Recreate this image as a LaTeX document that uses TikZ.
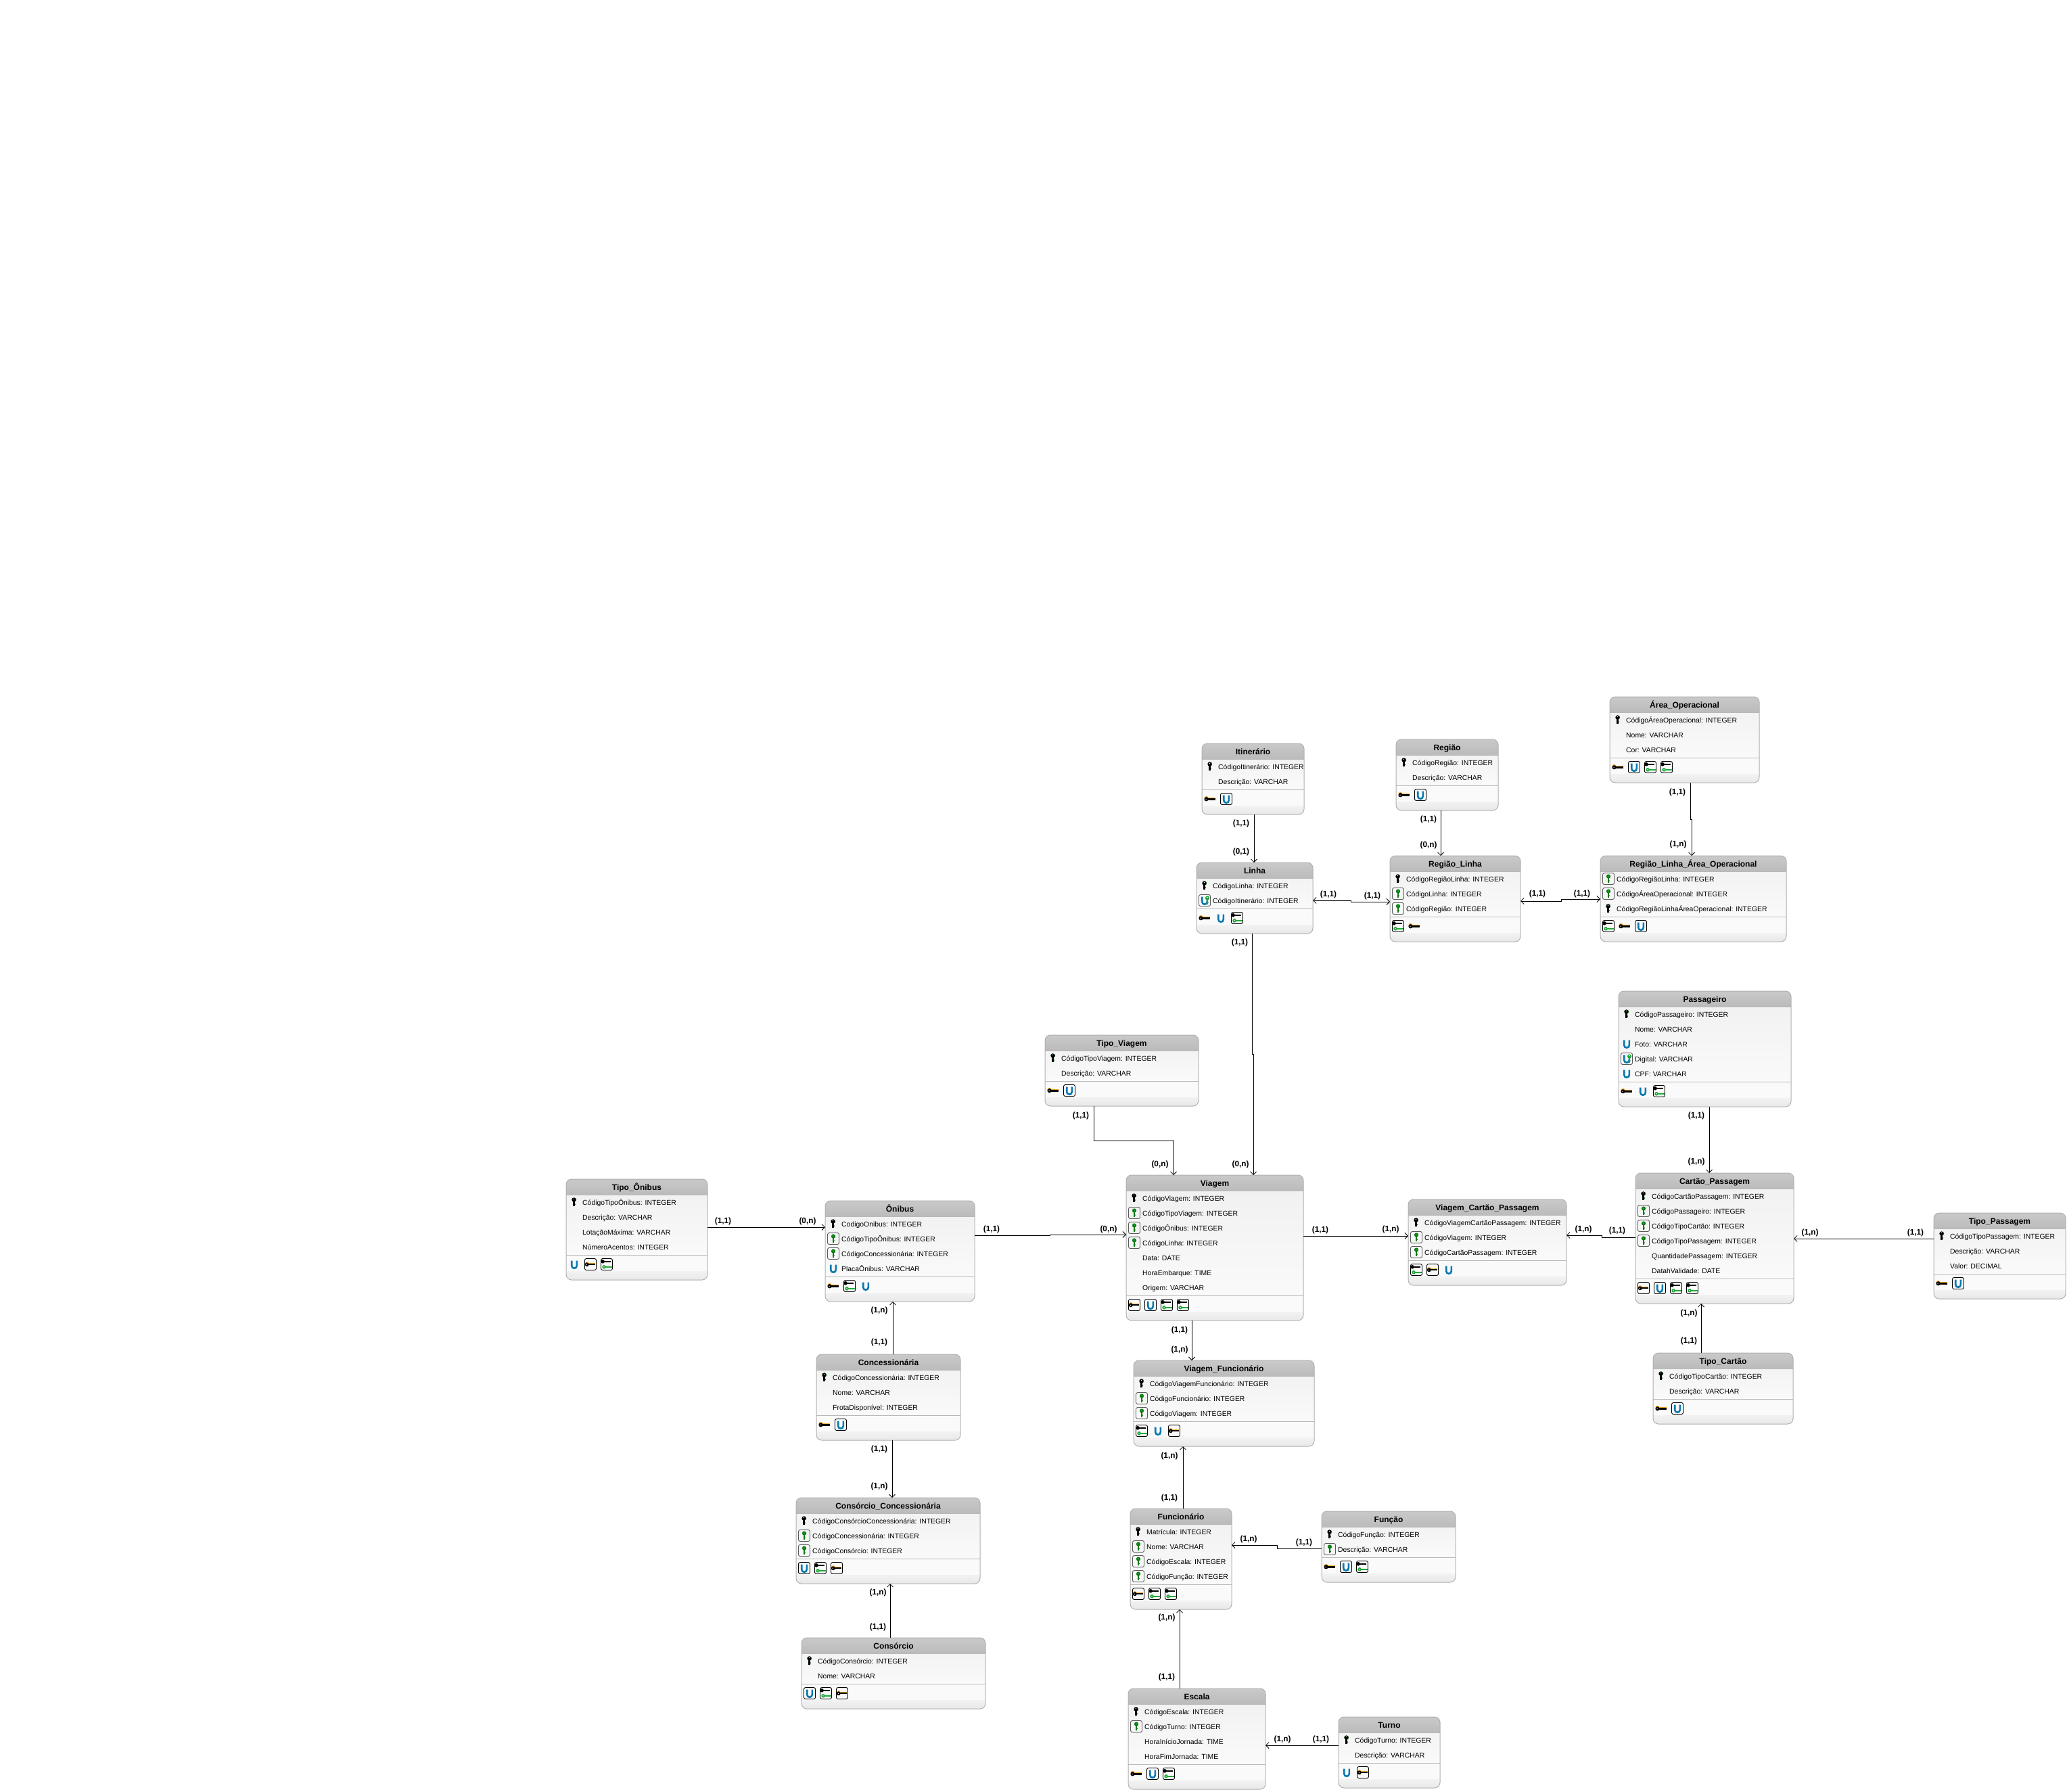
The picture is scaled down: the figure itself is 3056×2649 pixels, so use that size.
\documentclass[tikz,border=0pt]{standalone}
\usepackage{fontspec}
\setmainfont{Liberation Sans}
\usetikzlibrary{arrows.meta}
\definecolor{titletop}{HTML}{C9C9C9}
\definecolor{titlebot}{HTML}{BBBBBB}
\definecolor{edgegray}{HTML}{B0B0B0}
\definecolor{keygreen}{HTML}{0B7A12}
\definecolor{lightgreen}{HTML}{22A83A}
\definecolor{ublue}{HTML}{0A78B0}
\definecolor{keyorange}{HTML}{F5A623}
\definecolor{boxgray}{HTML}{5A5A5A}
\newcommand\attrfont{\fontsize{10.4}{12}\selectfont}
\newcommand\titlefont{\fontsize{12}{14}\selectfont\bfseries}
\newcommand\cardfont{\fontsize{11.8}{14}\selectfont\bfseries}
\tikzset{
  x=1pt,y=-1pt,
  entbox/.style={draw=edgegray,line width=1pt,rounded corners=8pt,inner sep=0pt,outer sep=0pt,anchor=north west},
  attr/.style={anchor=base west,inner sep=0pt,font=\attrfont,text=black},
  enttitle/.style={anchor=base,inner sep=0pt,font=\titlefont,text=black},
  cardlabel/.style={inner sep=0pt,font=\cardfont},
  conn/.style={draw=black,line width=0.8pt},
  tip/.style={-{Straight Barb[length=4.5pt,width=9pt,line width=0.8pt]}},
  tipb/.style={{Straight Barb[length=4.5pt,width=9pt,line width=0.8pt]}-{Straight Barb[length=4.5pt,width=9pt,line width=0.8pt]}},
}
% icons: drawn about the current origin
\newcommand\vkey[1]{%
  \fill[#1] (0,-3.5) circle (3.1);
  \fill[#1] (-1.2,-3) rectangle (1.2,5.5);
  \fill[#1] (0,5.5) -- (1.2,4) -- (2.2,3) -- (1.2,2.4) -- cycle;
}
\newcommand\hkey[1]{%
  \fill[#1] (-5.5,0) circle (3.1);
  \fill[#1] (-4,-1.2) rectangle (7.5,1.2);
}
\newcommand\icno{}
\newcommand\icpk{\vkey{keygreen}\begin{scope}[shift={(-0.6,0)}]\vkey{black}\end{scope}\fill[white] (-0.6,-4.6) circle (0.7);}
\newcommand\icbox[1]{\draw[#1,line width=0.9pt,rounded corners=2.5pt] (-8.5,-8.5) rectangle (8.5,8.5);}
\newcommand\icfk{\icbox{boxgray}\vkey{keygreen}\fill[lightgreen] (0,-3.8) circle (1.2);}
\newcommand\ubluemark{\draw[ublue,line width=2.6pt] (-3.8,-5.5) -- (-3.8,2) arc[start angle=180,end angle=0,radius=3.8] -- (3.8,-5.5);}
\newcommand\icu{\ubluemark}
\newcommand\icufk{\icbox{boxgray}\ubluemark\begin{scope}[shift={(4,0)}]\vkey{lightgreen}\end{scope}\fill[white] (4,-4.5) circle (0.8);}
\newcommand\icfpk{\begin{scope}[shift={(0,-1)}]\hkey{keyorange}\end{scope}\begin{scope}[shift={(0,0.3)}]\hkey{black}\end{scope}\fill[white] (-6,0.3) circle (0.7);}
\newcommand\icbfpk{\icbox{black}\begin{scope}[scale=0.95]\icfpk\end{scope}}
\newcommand\icbu{\icbox{black}\ubluemark}
\newcommand\icbfk{\icbox{black}%
  \begin{scope}[shift={(-1,-4.2)},scale=0.9]\hkey{black}\end{scope}%
  \begin{scope}[shift={(1,3.8)},scale=0.9]\hkey{lightgreen}\end{scope}\fill[white] (-4,3.8) circle (0.8);}
% \entity{name}{x}{y}{w}{n}{title}{rows}{footer icons}
\newcommand\entity[8]{%
  \pgfmathsetmacro\enth{61+22*#5}
  \pgfmathsetmacro\ysep{#3+24+22*#5}
  \begin{scope}
    \clip[rounded corners=8pt] (#2,#3) rectangle ++(#4,\enth);
    \shade[top color=black!6,bottom color=black!2] (#2,#3) rectangle ++(#4,\ysep-#3);
    \shade[top color=titletop,bottom color=titlebot] (#2,#3) rectangle ++(#4,23);
    \fill[black!28] (#2,#3+23) rectangle ++(#4,1.3);
    \fill[black!2] (#2,\ysep) rectangle ++(#4,24);
    \shade[top color=black!5,bottom color=black!9] (#2,\ysep+24) rectangle ++(#4,13);
    \fill[black!28] (#2,\ysep) rectangle ++(#4,1.4);
  \end{scope}
  \node[entbox,minimum width=#4 pt,minimum height=\enth pt] (#1) at (#2,#3) {};
  \node[enttitle] (#1-t) at (#2+#4/2,#3+16) {#6};
  \foreach \rk/\rt [count=\ri from 0] in {#7}{
    \begin{scope}[shift={(#2+12,#3+34+22*\ri)}]\csname ic\rk\endcsname\end{scope}
    \node[attr] (#1-r\ri) at (#2+24,#3+38+22*\ri) {\rt};
  }
  \foreach \fk [count=\fidx from 0] in {#8}{
    \begin{scope}[shift={(#2+12+24*\fidx,\ysep+14)}]\csname ic\fk\endcsname\end{scope}
  }
}
\newcounter{cardno}
\newcommand\card[3]{\stepcounter{cardno}\node[cardlabel] (card\thecardno) at (#1,#2) {#3};}
\begin{document}
\begin{tikzpicture}
\useasboundingbox (0,0) rectangle (3056,2649);
\entity{itin}{1777}{1099}{151}{2}{Itinerário}{pk/CódigoItinerário: INTEGER,no/Descrição: VARCHAR}{fpk,bu}
\entity{regiao}{2064}{1093}{151}{2}{Região}{pk/CódigoRegião: INTEGER,no/Descrição: VARCHAR}{fpk,bu}
\entity{area}{2380}{1030}{221}{3}{Área\_Operacional}{pk/CódigoÁreaOperacional: INTEGER,no/Nome: VARCHAR,no/Cor: VARCHAR}{fpk,bu,bfk,bfk}
\entity{linha}{1769}{1275}{172}{2}{Linha}{pk/CódigoLinha: INTEGER,ufk/CódigoItinerário: INTEGER}{fpk,u,bfk}
\entity{rl}{2055}{1265}{193}{3}{Região\_Linha}{pk/CódigoRegiãoLinha: INTEGER,fk/CódigoLinha: INTEGER,fk/CódigoRegião: INTEGER}{bfk,fpk}
\entity{rlao}{2366}{1265}{275}{3}{Região\_Linha\_Área\_Operacional}{fk/CódigoRegiãoLinha: INTEGER,fk/CódigoÁreaOperacional: INTEGER,pk/CódigoRegiãoLinhaÁreaOperacional: INTEGER}{bfk,fpk,bu}
\entity{pass}{2393}{1465}{255}{5}{Passageiro}{pk/CódigoPassageiro: INTEGER,no/Nome: VARCHAR,u/Foto: VARCHAR,ufk/Digital: VARCHAR,u/CPF: VARCHAR}{fpk,u,bfk}
\entity{tviagem}{1545}{1530}{227}{2}{Tipo\_Viagem}{pk/CódigoTipoViagem: INTEGER,no/Descrição: VARCHAR}{fpk,bu}
\entity{tonibus}{837}{1743}{209}{4}{Tipo\_Ônibus}{pk/CódigoTipoÔnibus: INTEGER,no/Descrição: VARCHAR,no/LotaçãoMáxima: VARCHAR,no/NúmeroAcentos: INTEGER}{u,bfpk,bfk}
\entity{onibus}{1220}{1775}{221}{4}{Ônibus}{pk/CodigoOnibus: INTEGER,fk/CódigoTipoÔnibus: INTEGER,fk/CódigoConcessionária: INTEGER,u/PlacaÔnibus: VARCHAR}{fpk,bfk,u}
\entity{viagem}{1665}{1737}{262}{7}{Viagem}{pk/CódigoViagem: INTEGER,fk/CódigoTipoViagem: INTEGER,fk/CódigoÔnibus: INTEGER,fk/CódigoLinha: INTEGER,no/Data: DATE,no/HoraEmbarque: TIME,no/Origem: VARCHAR}{bfpk,bu,bfk,bfk}
\entity{vcp}{2082}{1773}{234}{3}{Viagem\_Cartão\_Passagem}{pk/CódigoViagemCartãoPassagem: INTEGER,fk/CódigoViagem: INTEGER,fk/CódigoCartãoPassagem: INTEGER}{bfk,bfpk,u}
\entity{cartao}{2418}{1734}{234}{6}{Cartão\_Passagem}{pk/CódigoCartãoPassagem: INTEGER,fk/CódigoPassageiro: INTEGER,fk/CódigoTipoCartão: INTEGER,fk/CódigoTipoPassagem: INTEGER,no/QuantidadePassagem: INTEGER,no/DatahValidade: DATE}{bfpk,bu,bfk,bfk}
\entity{tpass}{2859}{1793}{195}{3}{Tipo\_Passagem}{pk/CódigoTipoPassagem: INTEGER,no/Descrição: VARCHAR,no/Valor: DECIMAL}{fpk,bu}
\entity{tcartao}{2444}{2000}{207}{2}{Tipo\_Cartão}{pk/CódigoTipoCartão: INTEGER,no/Descrição: VARCHAR}{fpk,bu}
\entity{conc}{1207}{2002}{213}{3}{Concessionária}{pk/CódigoConcessionária: INTEGER,no/Nome: VARCHAR,no/FrotaDisponível: INTEGER}{fpk,bu}
\entity{cc}{1177}{2214}{272}{3}{Consórcio\_Concessionária}{pk/CódigoConsórcioConcessionária: INTEGER,fk/CódigoConcessionária: INTEGER,fk/CódigoConsórcio: INTEGER}{bu,bfk,bfpk}
\entity{cons}{1185}{2421}{272}{2}{Consórcio}{pk/CódigoConsórcio: INTEGER,no/Nome: VARCHAR}{bu,bfk,bfpk}
\entity{vf}{1676}{2011}{267}{3}{Viagem\_Funcionário}{pk/CódigoViagemFuncionário: INTEGER,fk/CódigoFuncionário: INTEGER,fk/CódigoViagem: INTEGER}{bfk,u,bfpk}
\entity{func}{1671}{2230}{150}{4}{Funcionário}{pk/Matrícula: INTEGER,fk/Nome: VARCHAR,fk/CódigoEscala: INTEGER,fk/CódigoFunção: INTEGER}{bfpk,bfk,bfk}
\entity{funcao}{1954}{2234}{198}{2}{Função}{pk/CódigoFunção: INTEGER,fk/Descrição: VARCHAR}{fpk,bu,bfk}
\entity{escala}{1668}{2496}{203}{4}{Escala}{pk/CódigoEscala: INTEGER,fk/CódigoTurno: INTEGER,no/HoraInícioJornada: TIME,no/HoraFimJornada: TIME}{fpk,bu,bfk}
\entity{turno}{1979}{2538}{150}{2}{Turno}{pk/CódigoTurno: INTEGER,no/Descrição: VARCHAR}{u,bfpk}
% connectors
\draw[conn,tip] (itin.south -| 1854,0) -- (linha.north -| 1854,0);
\draw[conn,tipb] (linha.east |- 0,1331) -- (1997,1331) -- (1997,1333) -- (rl.west |- 0,1333);
\draw[conn,tip] (regiao.south -| 2130,0) -- (rl.north -| 2130,0);
\draw[conn,tipb] (rl.east |- 0,1332) -- (2308,1332) -- (2308,1329) -- (rlao.west |- 0,1329);
\draw[conn,tip] (area.south -| 2499,0) -- (2499,1211) -- (2501,1211) -- (rlao.north -| 2501,0);
\draw[conn,tip] (linha.south -| 1851,0) -- (1851,1558) -- (1853,1558) -- (viagem.north -| 1853,0);
\draw[conn,tip] (tviagem.south -| 1617,0) -- (1617,1686) -- (1735,1686) -- (viagem.north -| 1735,0);
\draw[conn,tip] (tonibus.east |- 0,1814) -- (onibus.west |- 0,1814);
\draw[conn,tip] (onibus.east |- 0,1826) -- (1552,1826) -- (1552,1825) -- (viagem.west |- 0,1825);
\draw[conn,tip] (viagem.east |- 0,1827) -- (vcp.west |- 0,1827);
\draw[conn,tip] (cartao.west |- 0,1829) -- (2368,1829) -- (2368,1826) -- (vcp.east |- 0,1826);
\draw[conn,tip] (tpass.west |- 0,1831) -- (cartao.east |- 0,1831);
\draw[conn,tip] (pass.south -| 2527,0) -- (cartao.north -| 2527,0);
\draw[conn,tip] (tcartao.north -| 2515,0) -- (cartao.south -| 2515,0);
\draw[conn,tip] (viagem.south -| 1762,0) -- (vf.north -| 1762,0);
\draw[conn,tip] (func.north -| 1749,0) -- (vf.south -| 1749,0);
\draw[conn,tip] (funcao.west |- 0,2289) -- (1888,2289) -- (1888,2284) -- (func.east |- 0,2284);
\draw[conn,tip] (escala.north -| 1744,0) -- (func.south -| 1744,0);
\draw[conn,tip] (turno.west |- 0,2580) -- (escala.east |- 0,2580);
\draw[conn,tip] (conc.north -| 1320,0) -- (onibus.south -| 1320,0);
\draw[conn,tip] (conc.south -| 1319,0) -- (cc.north -| 1319,0);
\draw[conn,tip] (cons.north -| 1316,0) -- (cc.south -| 1316,0);
% cardinalities
\card{1835}{1217}{(1,1)} \card{1835}{1259}{(0,1)}
\card{1964}{1322}{(1,1)} \card{2029}{1324}{(1,1)}
\card{2112}{1211}{(1,1)} \card{2112}{1249}{(0,n)}
\card{2273}{1321}{(1,1)} \card{2339}{1321}{(1,1)}
\card{2480}{1171}{(1,1)} \card{2481}{1248}{(1,n)}
\card{1833}{1393}{(1,1)} \card{1834}{1721}{(0,n)}
\card{1598}{1649}{(1,1)} \card{1715}{1721}{(0,n)}
\card{1069}{1805}{(1,1)} \card{1194}{1805}{(0,n)}
\card{1466}{1817}{(1,1)} \card{1639}{1817}{(0,n)}
\card{1952}{1818}{(1,1)} \card{2056}{1817}{(1,n)}
\card{2341}{1817}{(1,n)} \card{2391}{1819}{(1,1)}
\card{2832}{1822}{(1,1)} \card{2676}{1822}{(1,n)}
\card{2508}{1649}{(1,1)} \card{2508}{1717}{(1,n)}
\card{2497}{1941}{(1,n)} \card{2497}{1982}{(1,1)}
\card{1744}{1966}{(1,1)} \card{1744}{1995}{(1,n)}
\card{1729}{2152}{(1,n)} \card{1729}{2214}{(1,1)}
\card{1928}{2280}{(1,1)} \card{1846}{2275}{(1,n)}
\card{1725}{2479}{(1,1)} \card{1725}{2391}{(1,n)}
\card{1953}{2571}{(1,1)} \card{1896}{2571}{(1,n)}
\card{1300}{1937}{(1,n)} \card{1300}{1984}{(1,1)}
\card{1300}{2142}{(1,1)} \card{1300}{2197}{(1,n)}
\card{1298}{2405}{(1,1)} \card{1298}{2354}{(1,n)}
\end{tikzpicture}
\end{document}
